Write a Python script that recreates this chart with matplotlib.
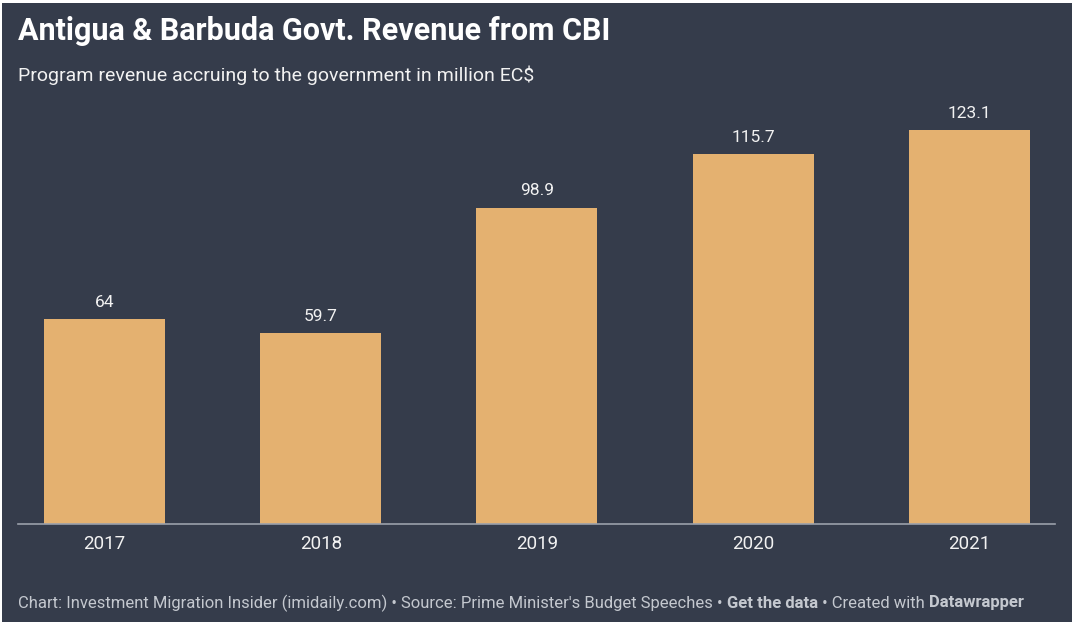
import numpy as np
import matplotlib.pyplot as plt
from matplotlib.patches import Rectangle

years = ['2017', '2018', '2019', '2020', '2021']
revenue = [64, 59.7, 98.9, 115.7, 123.1]
value_labels = ['64', '59.7', '98.9', '115.7', '123.1']

bg = '#353c4b'
bar_color = '#e4b170'
text_color = '#f2f2f2'

plt.rcParams['font.family'] = ['Roboto', 'DejaVu Sans']

W, H = 1080, 628
fig = plt.figure(figsize=(W / 100, H / 100), dpi=100)
fig.patch.set_facecolor('white')
fig.patches.append(Rectangle((2 / W, 6 / H), 1070 / W, 619 / H,
                             transform=fig.transFigure, facecolor=bg,
                             edgecolor='none', zorder=-1))

# axes: baseline at y=524 px, left 18 px, right 1055 px
ax = fig.add_axes([18 / W, (H - 524) / H, (1055 - 18) / W, 424 / H])
ax.set_facecolor('none')
x = np.arange(len(years))
ax.bar(x, revenue, width=0.56, color=bar_color, zorder=2)
ax.set_xlim(-0.40, len(years) - 1 + 0.396)
ax.set_ylim(0, 132.5)

for xi, v, lab in zip(x, revenue, value_labels):
    ax.annotate(lab, (xi, v), xytext=(0, 6.5), textcoords='offset points',
                ha='center', va='bottom', color=text_color, fontsize=12.5)

ax.set_xticks(x)
ax.set_xticklabels(years, color=text_color, fontsize=13.5)
ax.tick_params(axis='x', length=0, pad=8)
ax.set_yticks([])
for s in ['top', 'right', 'left']:
    ax.spines[s].set_visible(False)
ax.spines['bottom'].set_color('#9aa0aa')
ax.spines['bottom'].set_linewidth(1.2)

fig.text(18 / W, 1 - 31 / H, 'Antigua & Barbuda Govt. Revenue from CBI',
         color='white', fontsize=22, fontweight='bold', va='center', ha='left')
fig.text(18 / W, 1 - 75 / H, 'Program revenue accruing to the government in million EC$',
         color=text_color, fontsize=14, va='center', ha='left')

# footer with mixed weights
renderer = fig.canvas.get_renderer()
parts = [
    ("Chart: Investment Migration Insider (imidaily.com) \u2022 Source: Prime Minister's Budget Speeches \u2022 ", 'normal'),
    ('Get the data', 'bold'),
    (' \u2022 Created with ', 'normal'),
    ('Datawrapper', 'bold'),
]
xpos = 18 / W
for txt, wt in parts:
    t = fig.text(xpos, 1 - 603 / H, txt, color='#c4c8cf', fontsize=12,
                 fontweight=wt, va='center', ha='left')
    bb = t.get_window_extent(renderer=renderer)
    xpos += bb.width / W

fig.savefig('out.png', dpi=100, facecolor=fig.get_facecolor())
